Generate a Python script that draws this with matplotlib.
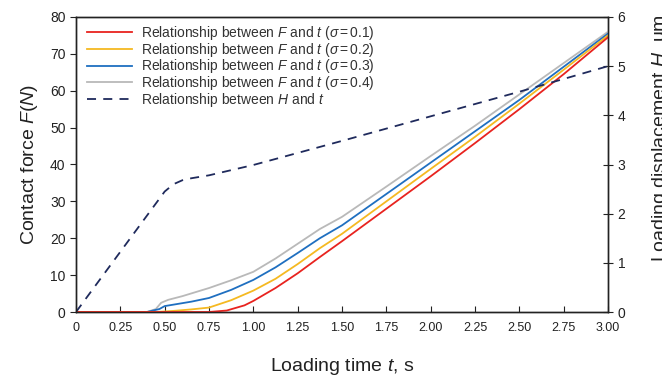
import matplotlib
matplotlib.use("Agg")
import matplotlib.pyplot as plt
from matplotlib.lines import Line2D

plt.rcParams['font.family'] = ['Liberation Sans', 'DejaVu Sans']
plt.rcParams['mathtext.fontset'] = 'custom'
plt.rcParams['mathtext.rm'] = 'Liberation Sans'
plt.rcParams['mathtext.it'] = 'Liberation Sans:italic'
plt.rcParams['mathtext.sf'] = 'Liberation Sans'

# Data
t_red = [0, 0.75, 0.85, 0.95, 1.0, 1.125, 1.25, 1.375, 1.5, 1.75, 2.0, 2.25, 2.5, 2.75, 3.0]
F_red = [0, 0, 0.4, 1.8, 3.0, 6.5, 10.5, 14.9, 19.2, 28, 36.8, 45.8, 55, 64.5, 74.5]

t_yel = [0, 0.45, 0.55, 0.65, 0.75, 0.875, 1.0, 1.125, 1.25, 1.375, 1.5, 1.75, 2.0, 2.25, 2.5, 2.75, 3.0]
F_yel = [0, 0, 0.3, 0.7, 1.2, 3.2, 5.8, 9.0, 13, 17.3, 21.2, 30, 38.8, 47.5, 56.5, 65.7, 75]

t_blu = [0, 0.4, 0.47, 0.5, 0.55, 0.65, 0.75, 0.875, 1.0, 1.125, 1.25, 1.375, 1.5, 1.75, 2.0, 2.25, 2.5, 2.75, 3.0]
F_blu = [0, 0, 0.8, 1.6, 2.0, 2.8, 3.8, 6.0, 8.7, 12.1, 16.0, 20, 23.5, 32, 40.5, 49, 57.5, 66.5, 75.5]

t_gry = [0, 0.4, 0.45, 0.48, 0.52, 0.6, 0.75, 0.875, 1.0, 1.125, 1.25, 1.375, 1.5, 1.75, 2.0, 2.25, 2.5, 2.75, 3.0]
F_gry = [0, 0, 0.8, 2.5, 3.3, 4.3, 6.5, 8.6, 10.9, 14.5, 18.5, 22.5, 25.8, 34, 42.3, 50.5, 59, 67.5, 76]

t_H = [0, 0.5, 0.55, 0.6, 0.65, 0.75, 1.0, 1.5, 2.0, 2.5, 3.0]
H = [0, 2.45, 2.6, 2.68, 2.72, 2.78, 2.99, 3.48, 3.98, 4.48, 5.0]

x_ticks = [0, 0.25, 0.5, 0.75, 1.0, 1.25, 1.5, 1.75, 2.0, 2.25, 2.5, 2.75, 3.0]
x_labels = ["0", "0.25", "0.50", "0.75", "1.00", "1.25", "1.50", "1.75", "2.00", "2.25", "2.50", "2.75", "3.00"]
sigmas = ["0.1", "0.2", "0.3", "0.4"]

colors = ["#e8231f", "#f5b921", "#1f6fc0", "#b9b9b9"]

fig = plt.figure(figsize=(6.62, 3.78), dpi=100)
ax = fig.add_axes([76/662, 1-312/378, (608-76)/662, (312-17)/378])
ax2 = ax.twinx()

series = list(zip([(t_red, F_red), (t_yel, F_yel), (t_blu, F_blu), (t_gry, F_gry)], colors, sigmas))
for (tt, ff), c, s in reversed(series):
    ax.plot(tt, ff, color=c, lw=1.3, zorder=3)
handles = []
for (tt, ff), c, s in series:
    handles.append(Line2D([], [], color=c, lw=1.3,
                          label=r"Relationship between $F$ and $t$ ($\sigma\,$=$\,$" + s + ")"))

ax2.plot(t_H, H, color="#1f2a5c", lw=1.3, ls=(0, (5, 4)))
handles.append(Line2D([], [], color="#1f2a5c", lw=1.3, ls=(0, (5, 4)),
                      label=r"Relationship between $H$ and $t$"))

ax.set_xlim(0, 3.0)
ax.set_ylim(0, 80)
ax2.set_ylim(0, 6)
ax.set_xticks(x_ticks)
ax.set_xticklabels(x_labels)
ax.set_yticks(range(0, 81, 10))
ax2.set_yticks(range(0, 7))

ax.tick_params(axis='x', direction='in', length=4, labelsize=9, pad=7, colors='#222222')
ax.tick_params(axis='y', direction='out', length=4, labelsize=10, colors='#222222')
ax2.tick_params(axis='y', direction='inout', length=7, labelsize=10, colors='#222222')

ax.set_xlabel(r"Loading time $t$, s", fontsize=14, labelpad=16, color='#222222')
ax.set_ylabel(r"Contact force $F(N)$", fontsize=14, labelpad=7, color='#222222')
ax2.set_ylabel(r"Loading displacement $H$, um", fontsize=14, color='#222222')
ax2.yaxis.set_label_coords(1.0 + (650-608)/532, (312-138)/295)

for a in (ax, ax2):
    for sp in a.spines.values():
        sp.set_color('#222222')
        sp.set_linewidth(1.0)

leg = ax.legend(handles=handles, loc='upper left', frameon=False, fontsize=10,
                handlelength=3.2, handletextpad=0.65, labelspacing=-0.08,
                borderaxespad=0.4, bbox_to_anchor=(0.0, 1.015))
for txt in leg.get_texts():
    txt.set_color('#333333')

fig.savefig("out.png", dpi=100)
